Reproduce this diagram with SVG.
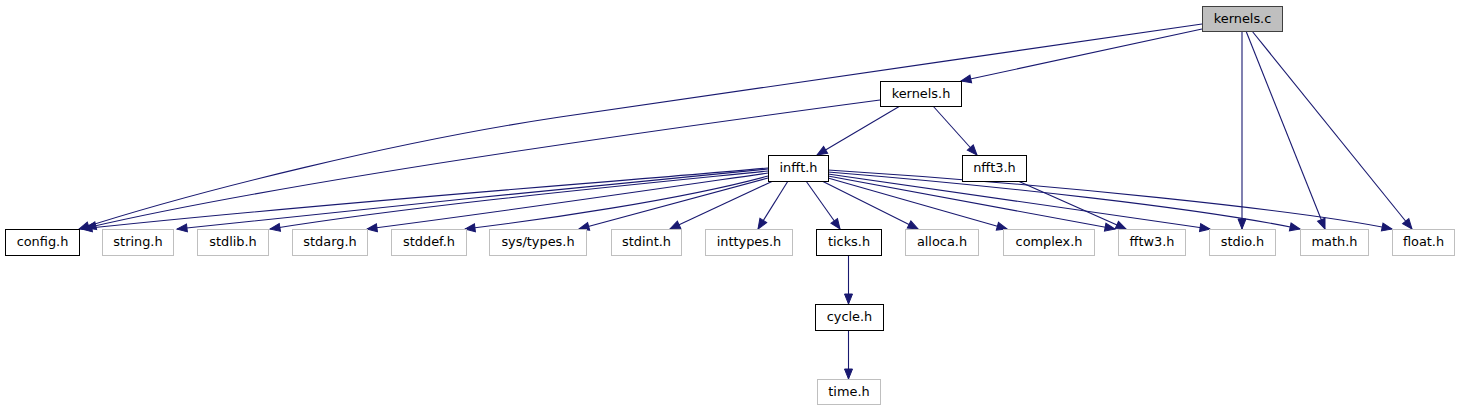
<svg xmlns="http://www.w3.org/2000/svg" width="1460" height="411" viewBox="0 0 1460 411">
<style>
.n rect{fill:#fff;stroke:#000;stroke-width:1}
.g rect{fill:#fff;stroke:#bfbfbf;stroke-width:1}
.root rect{fill:#bfbfbf;stroke:#404040;stroke-width:1}
text{font-family:"DejaVu Sans","Liberation Sans",sans-serif;font-size:12.9px;fill:#000;text-anchor:middle}
.e path{fill:none;stroke:#191970;stroke-width:1.1;marker-end:url(#arr)}
</style>
<defs>
<marker id="arr" markerUnits="userSpaceOnUse" markerWidth="14" markerHeight="12" refX="10" refY="5" orient="auto" overflow="visible">
<path d="M0,1 L10,5 L0,9 z" fill="#191970" stroke="#191970" stroke-width="1"/>
</marker>
</defs>
<rect width="1460" height="411" fill="#fff"/>
<g id="edges" class="e">
<path d="M1202,24 C1000,53 700,97 560,117 C400,141 200,190 79,229"/>
<path d="M1202,29 L961,81"/>
<path d="M1242,31 L1242,229"/>
<path d="M1246,31 L1325,229"/>
<path d="M1252,31 L1412,229"/>
<path d="M880,100 C700,124 300,178 86,228"/>
<path d="M900,106 L817,155"/>
<path d="M933,106 L977,155"/>
<path d="M1018,181 L1126,229"/>
<path d="M768,168 C600,183 300,205 82,229"/>
<path d="M768,169 C600,185 350,210 177,229"/>
<path d="M768,171 C620,186 420,205 270,229"/>
<path d="M768,173 C650,190 500,212 367,229"/>
<path d="M768,176 C680,200 540,220 465,229"/>
<path d="M768,178 L579,229"/>
<path d="M773,181 L670,229"/>
<path d="M788,181 L758,229"/>
<path d="M806,181 L840,229"/>
<path d="M822,181 L918,229"/>
<path d="M828,178 L1007,229"/>
<path d="M828,176 L1115,229"/>
<path d="M828,174 L1210,229"/>
<path d="M828,172 C1000,186 1200,208 1300,229"/>
<path d="M828,170 C1050,184 1300,210 1392,229"/>
<path d="M848.5,255 L848.5,304"/>
<path d="M848.5,330 L848.5,379"/>
</g>
<g id="kernels_c" class="root"><rect x="1202.5" y="6.5" width="80" height="25"/><text x="1242.5" y="22.5">kernels.c</text></g>
<g id="kernels_h" class="n"><rect x="880.5" y="81.5" width="81" height="25"/><text x="921" y="97.5">kernels.h</text></g>
<g id="infft_h" class="n"><rect x="768.5" y="155.5" width="60" height="26"/><text x="798.5" y="172">infft.h</text></g>
<g id="nfft3_h" class="n"><rect x="962.5" y="155.5" width="64" height="26"/><text x="994.5" y="172">nfft3.h</text></g>
<g id="config_h" class="n"><rect x="5.5" y="229.5" width="74" height="26"/><text x="42.5" y="246">config.h</text></g>
<g id="string_h" class="g"><rect x="102.5" y="229.5" width="71" height="26"/><text x="138" y="246">string.h</text></g>
<g id="stdlib_h" class="g"><rect x="197.5" y="229.5" width="71" height="26"/><text x="233" y="246">stdlib.h</text></g>
<g id="stdarg_h" class="g"><rect x="292.5" y="229.5" width="75" height="26"/><text x="330" y="246">stdarg.h</text></g>
<g id="stddef_h" class="g"><rect x="391.5" y="229.5" width="75" height="26"/><text x="429" y="246">stddef.h</text></g>
<g id="sys_types_h" class="g"><rect x="489.5" y="229.5" width="97" height="26"/><text x="538" y="246">sys/types.h</text></g>
<g id="stdint_h" class="g"><rect x="611.5" y="229.5" width="70" height="26"/><text x="646.5" y="246">stdint.h</text></g>
<g id="inttypes_h" class="g"><rect x="705.5" y="229.5" width="87" height="26"/><text x="749" y="246">inttypes.h</text></g>
<g id="ticks_h" class="n"><rect x="816.5" y="229.5" width="65" height="26"/><text x="849" y="246">ticks.h</text></g>
<g id="alloca_h" class="g"><rect x="905.5" y="229.5" width="73" height="26"/><text x="942" y="246">alloca.h</text></g>
<g id="complex_h" class="g"><rect x="1003.5" y="229.5" width="91" height="26"/><text x="1049" y="246">complex.h</text></g>
<g id="fftw3_h" class="g"><rect x="1118.5" y="229.5" width="67" height="26"/><text x="1152" y="246">fftw3.h</text></g>
<g id="stdio_h" class="g"><rect x="1209.5" y="229.5" width="66" height="26"/><text x="1242.5" y="246">stdio.h</text></g>
<g id="math_h" class="g"><rect x="1300.5" y="229.5" width="68" height="26"/><text x="1334.5" y="246">math.h</text></g>
<g id="float_h" class="g"><rect x="1392.5" y="229.5" width="62" height="26"/><text x="1423.5" y="246">float.h</text></g>
<g id="cycle_h" class="n"><rect x="815.5" y="304.5" width="68" height="26"/><text x="849.5" y="321">cycle.h</text></g>
<g id="time_h" class="g"><rect x="817.5" y="379.5" width="63" height="25"/><text x="849" y="395.5">time.h</text></g>
</svg>
